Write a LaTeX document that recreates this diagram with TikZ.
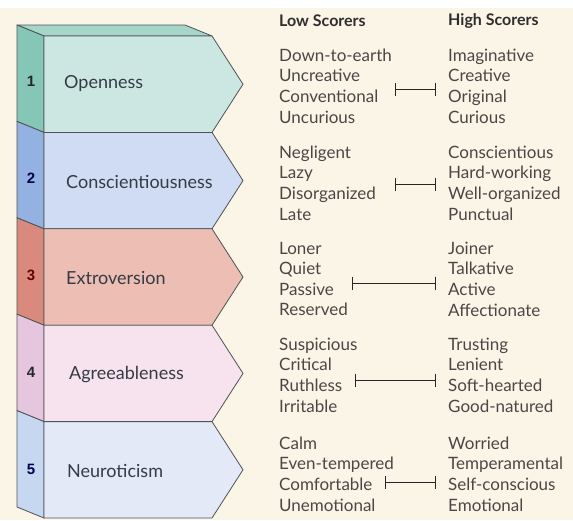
\documentclass[tikz,border=0pt]{standalone}
\usepackage{fontspec}
\setmainfont{Lato}
\newfontfamily\numfont{Liberation Sans}
\usetikzlibrary{arrows.meta}

% palette
\definecolor{paper}{HTML}{FBF5E7}
\definecolor{edgegrey}{HTML}{4E5256}
\definecolor{topface}{HTML}{A6D5CA}
\definecolor{sideA}{HTML}{86C6B7}\definecolor{frontA}{HTML}{CCE7E1}
\definecolor{sideB}{HTML}{93B2E2}\definecolor{frontB}{HTML}{CFDCF3}
\definecolor{sideC}{HTML}{D98A7C}\definecolor{frontC}{HTML}{EDBEB4}
\definecolor{sideD}{HTML}{E6C6DE}\definecolor{frontD}{HTML}{F6E3EE}
\definecolor{sideE}{HTML}{C6D7F2}\definecolor{frontE}{HTML}{E3E9F7}
\definecolor{labelgrey}{HTML}{353B45}
\definecolor{wordgrey}{HTML}{4A4846}
\definecolor{headgrey}{HTML}{2E2E2E}

\begin{document}
\begin{tikzpicture}[x=1pt,y=-1pt,
  edge/.style={draw=edgegrey, line width=0.8pt, line join=round},
  trait/.style={font=\fontsize{18}{21}\selectfont, text=labelgrey, anchor=west, inner sep=0pt},
  numlabel/.style={font=\numfont\bfseries\fontsize{15}{17}\selectfont, inner sep=0pt},
  words/.style={font=\fontsize{17}{20.6}\selectfont, align=left, anchor=west, inner sep=0pt, text=wordgrey},
  head/.style={font=\bfseries\fontsize{16}{19}\selectfont, anchor=west, inner sep=0pt, text=headgrey},
  span/.style={draw=black!85, line width=1pt, {Bar[width=13pt]}-{Bar[width=13pt]}}]
\useasboundingbox (0,0) rectangle (573,520);
\fill[white] (0,0) rectangle (573,520);
\fill[paper] (0,8) rectangle (573,520);

% top face of the stacked block
\filldraw[edge, fill=topface] (17,25) -- (185,25) -- (212,36) -- (44,36) -- cycle;

% five chevron segments with their side faces
\foreach \i/\sd/\fr in {1/sideA/frontA, 2/sideB/frontB, 3/sideC/frontC, 4/sideD/frontD, 5/sideE/frontE}{
  \pgfmathsetmacro\t{36+96.4*(\i-1)}
  \pgfmathsetmacro\b{\t+96.4}
  \pgfmathsetmacro\m{\t+48.2}
  \filldraw[edge, fill=\sd] (17,\t-11) -- (44,\t) -- (44,\b) -- (17,\b-11) -- cycle;
  \filldraw[edge, fill=\fr] (44,\t) -- (212,\t) -- (243,\m) -- (212,\b) -- (44,\b) -- cycle;
}

% numbers on the side faces
\node[numlabel, text=black!85] (n1) at (31,81) {1};
\node[numlabel, text=blue!30!black] (n2) at (31,178) {2};
\node[numlabel, text=red!40!black] (n3) at (31,275) {3};
\node[numlabel, text=black!85] (n4) at (31,372) {4};
\node[numlabel, text=blue!30!black] (n5) at (31,469) {5};

% trait names
\node[trait] (t1) at (64,84) {Openness};
\node[trait] (t2) at (66,182) {Conscientiousness};
\node[trait] (t3) at (66,278) {Extroversion};
\node[trait] (t4) at (69,375) {Agreeableness};
\node[trait] (t5) at (67,471) {Neuroticism};

% column headings
\node[head] (hl) at (279,21) {Low Scorers};
\node[head] (hh) at (448,21) {High Scorers};

% low-scorer words
\node[words] (l1) at (279,86) {Down-to-earth\\Uncreative\\Conventional\\Uncurious};
\node[words] (l2) at (279,183) {Negligent\\Lazy\\Disorganized\\Late};
\node[words] (l3) at (279,279) {Loner\\Quiet\\Passive\\Reserved};
\node[words] (l4) at (279,375) {Suspicious\\Critical\\Ruthless\\Irritable};
\node[words] (l5) at (279,474) {Calm\\Even-tempered\\Comfortable\\Unemotional};

% high-scorer words
\node[words] (r1) at (448,86) {Imaginative\\Creative\\Original\\Curious};
\node[words] (r2) at (448,183) {Conscientious\\Hard-working\\Well-organized\\Punctual};
\node[words] (r3) at (448,279) {Joiner\\Talkative\\Active\\Affectionate};
\node[words] (r4) at (448,375) {Trusting\\Lenient\\Soft-hearted\\Good-natured};
\node[words] (r5) at (448,474) {Worried\\Temperamental\\Self-conscious\\Emotional};

% range bars between the two columns
\coordinate (a1) at (395,89);  \coordinate (b1) at (436,89);
\coordinate (a2) at (395,184); \coordinate (b2) at (436,184);
\coordinate (a3) at (352,283); \coordinate (b3) at (436,283);
\coordinate (a4) at (355,380); \coordinate (b4) at (436,380);
\coordinate (a5) at (385,482); \coordinate (b5) at (436,482);
\foreach \k in {1,...,5}{\draw[span] (a\k) -- (b\k);}
\end{tikzpicture}
\end{document}
